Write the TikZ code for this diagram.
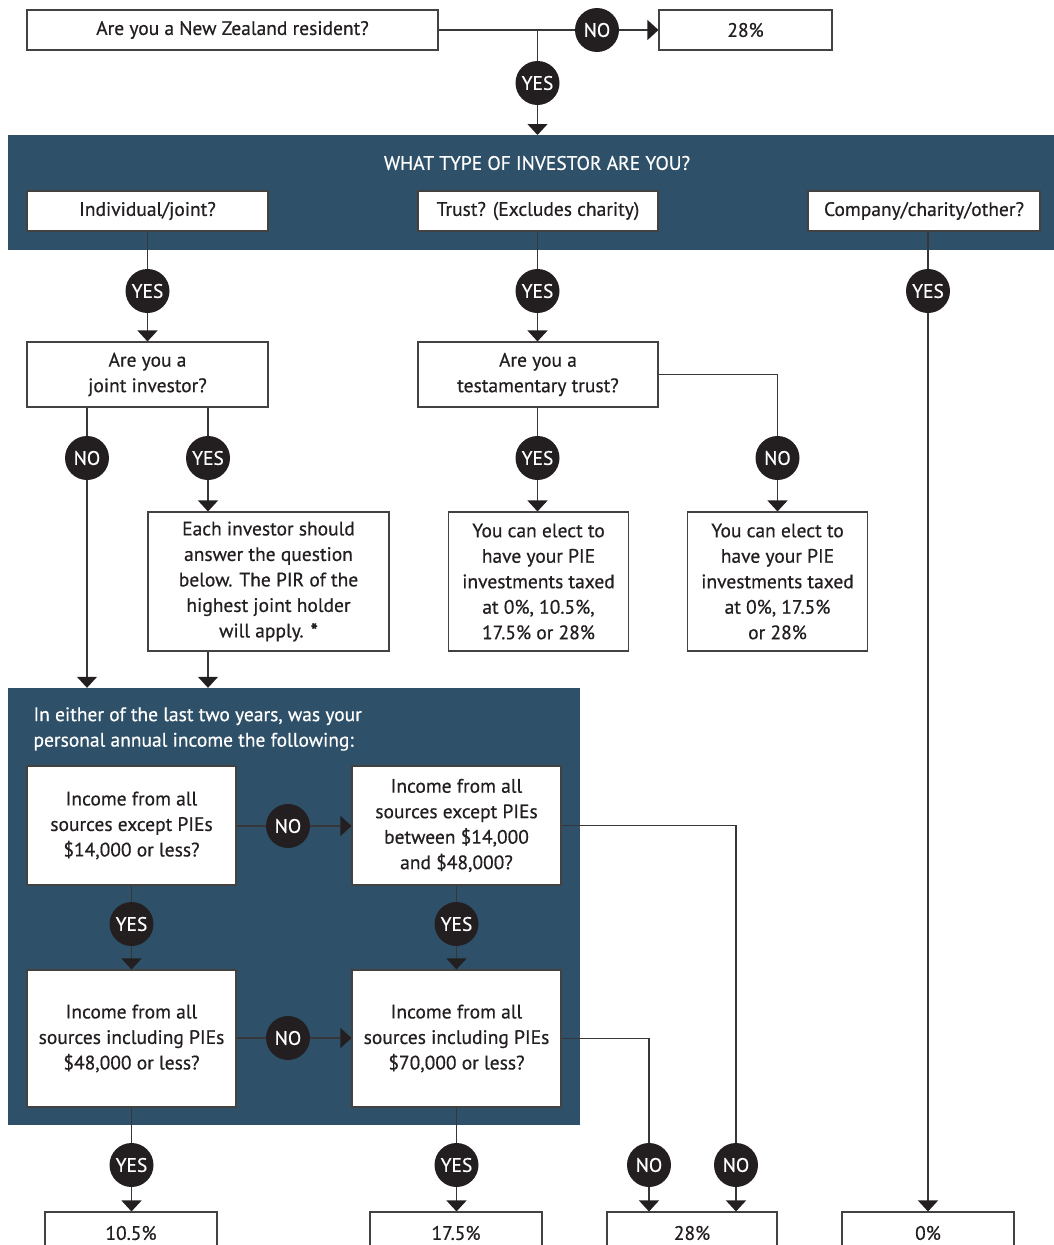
\documentclass[tikz,border=0pt]{standalone}
\usepackage{fontspec}
\setmainfont{PT Sans}[FakeBold=0.5]
\usetikzlibrary{arrows.meta,calc}
\definecolor{band}{RGB}{46,81,105}
\definecolor{ink}{RGB}{35,31,32}
\definecolor{linec}{RGB}{55,55,55}
\tikzset{
  box/.style={draw=ink!85, line width=1.1pt, fill=white, inner sep=0pt, align=center,
    text=ink, font=\fontsize{19.5}{25.5}\selectfont},
  dot/.style={circle, fill=ink, inner sep=0pt, minimum size=44pt, text=white,
    font=\fontsize{19.5}{20}\selectfont},
  conn/.style={draw=linec, line width=1.2pt},
  arr/.style={conn, -{Triangle[width=20pt,length=11pt,color=ink]}},
}
\begin{document}
\begin{tikzpicture}[x=1pt,y=-1pt]
\useasboundingbox (0,0) rectangle (1054,1245);
\clip (0,0) rectangle (1054,1245);
% backgrounds
\fill[band] (8,135) rectangle (1054,250);
\node[inner sep=0pt, minimum width=572pt, minimum height=437pt, fill=band] (panel) at (294,906.5) {};
\node[text=white, font=\fontsize{19.5}{20}\selectfont] (title) at (537,163) {WHAT TYPE OF INVESTOR ARE YOU?};
\node[anchor=west, text=white, align=left, font=\fontsize{19.5}{25.5}\selectfont] (ptext) at (30,729)
  {In either of the last two years, was your\\personal annual income the following:};
% boxes
\node[box, minimum width=411pt, minimum height=40pt] (top) at (232.5,30) {\raisebox{-2pt}{Are you a New Zealand resident?}};
\node[box, minimum width=173pt, minimum height=40pt] (r28top) at (745.5,30) {\raisebox{-2pt}{28\%}};
\node[box, minimum width=241pt, minimum height=40pt] (ind) at (147.5,211) {\raisebox{-2pt}{Individual/joint?}};
\node[box, minimum width=240pt, minimum height=40pt] (trust) at (538,211) {\raisebox{-2pt}{Trust? (Excludes charity)}};
\node[box, minimum width=232pt, minimum height=40pt] (comp) at (924,211) {\raisebox{-2pt}{Company/charity/other?}};
\node[box, minimum width=241pt, minimum height=65pt] (joint) at (147.5,374.5) {Are you a\\joint investor?};
\node[box, minimum width=240pt, minimum height=65pt] (test) at (538,374.5) {Are you a\\testamentary trust?};
\node[box, minimum width=241pt, minimum height=139pt] (each) at (268.5,581.5) {Each investor should\\answer the question\\below. The PIR of the\\highest joint holder\\will apply. \textbf{*}};
\node[box, minimum width=180pt, minimum height=139pt] (ta) at (538.5,581.5) {You can elect to\\have your PIE\\investments taxed\\at 0\%, 10.5\%,\\17.5\% or 28\%};
\node[box, minimum width=180pt, minimum height=139pt] (tb) at (777.5,581.5) {You can elect to\\have your PIE\\investments taxed\\at 0\%, 17.5\%\\or 28\%};
\node[box, minimum width=209pt, minimum height=119pt] (A) at (131.5,825.5) {Income from all\\sources except PIEs\\\$14,000 or less?};
\node[box, minimum width=209pt, minimum height=119pt] (B) at (456.5,825.5) {Income from all\\sources except PIEs\\between \$14,000\\and \$48,000?};
\node[box, minimum width=209pt, minimum height=137pt] (C) at (131.5,1038.5) {Income from all\\sources including PIEs\\\$48,000 or less?};
\node[box, minimum width=209pt, minimum height=137pt] (D) at (456.5,1038.5) {Income from all\\sources including PIEs\\\$70,000 or less?};
\node[box, minimum width=172pt, minimum height=42pt] (b1) at (131,1233) {10.5\%};
\node[box, minimum width=172pt, minimum height=42pt] (b2) at (456,1233) {17.5\%};
\node[box, minimum width=170pt, minimum height=42pt] (b3) at (692,1233) {28\%};
\node[box, minimum width=172pt, minimum height=42pt] (b4) at (928,1233) {0\%};
% dots
\node[dot] (no1) at (597,30) {NO};
\node[dot] (yes1) at (537.5,83) {YES};
\node[dot] (yes2) at (147.5,291) {YES};
\node[dot] (yes3) at (537.5,291) {YES};
\node[dot] (yes4) at (928,291) {YES};
\node[dot] (no5) at (87,458) {NO};
\node[dot] (yes6) at (208,458) {YES};
\node[dot] (yes7) at (537.5,458) {YES};
\node[dot] (no8) at (777.5,458) {NO};
\node[dot] (no9) at (288,826) {NO};
\node[dot] (yes10) at (131.5,924) {YES};
\node[dot] (yes11) at (456.5,924) {YES};
\node[dot] (no12) at (288,1038) {NO};
\node[dot] (yes13) at (131.5,1165) {YES};
\node[dot] (yes14) at (456.5,1165) {YES};
\node[dot] (no15) at (649,1165) {NO};
\node[dot] (no16) at (736,1165) {NO};
% coordinates
\coordinate (j1) at (537.5,30);
\coordinate (bt) at (537.5,135);
\coordinate (c1) at (928,231);
% connectors
\draw[conn] (top.east) -- (no1);
\draw[arr] (no1) -- (r28top.west);
\draw[conn] (j1) -- (yes1);
\draw[arr] (yes1) -- (bt);
\draw[conn] (ind.south) -- (yes2);
\draw[arr] (yes2) -- (joint.north);
\draw[conn] (trust.south -| yes3) -- (yes3);
\draw[arr] (yes3) -- (yes3 |- test.north);
\draw[conn] (c1) -- (yes4);
\draw[arr] (yes4) -- (yes4 |- b4.north);
\draw[conn] (joint.south -| no5) -- (no5);
\draw[arr] (no5) -- (no5 |- panel.north);
\draw[conn] (joint.south -| yes6) -- (yes6);
\draw[arr] (yes6) -- (yes6 |- each.north);
\draw[arr] (each.south -| yes6) -- (yes6 |- panel.north);
\draw[conn] (test.south -| yes7) -- (yes7);
\draw[arr] (yes7) -- (yes7 |- ta.north);
\draw[conn] (test.east) -| (no8);
\draw[arr] (no8) -- (tb.north);
\draw[conn] (A.east |- no9) -- (no9);
\draw[arr] (no9) -- (B.west |- no9);
\draw[conn] (A.south -| yes10) -- (yes10);
\draw[arr] (yes10) -- (yes10 |- C.north);
\draw[conn] (B.south -| yes11) -- (yes11);
\draw[arr] (yes11) -- (yes11 |- D.north);
\draw[conn] (C.east |- no12) -- (no12);
\draw[arr] (no12) -- (D.west |- no12);
\draw[conn] (B.east) -| (no16);
\draw[arr] (no16) -- (no16 |- b3.north);
\draw[conn] (D.east) -| (no15);
\draw[arr] (no15) -- (no15 |- b3.north);
\draw[conn] (C.south -| yes13) -- (yes13);
\draw[arr] (yes13) -- (yes13 |- b1.north);
\draw[conn] (D.south -| yes14) -- (yes14);
\draw[arr] (yes14) -- (yes14 |- b2.north);
\end{tikzpicture}
\end{document}
